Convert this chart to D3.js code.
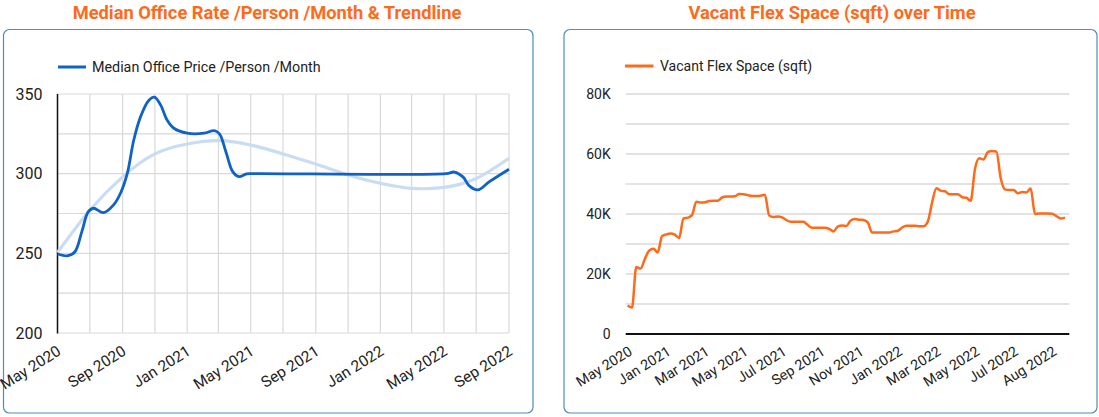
<!DOCTYPE html>
<html><head><meta charset="utf-8">
<script src="https://cdn.jsdelivr.net/npm/d3@7"></script>
<style>
body{margin:0;background:#fff;}
svg{display:block;font-family:Roboto,"Noto Sans",sans-serif;}
</style></head><body>
<svg id="chart" width="1099" height="417"></svg>
<script>
// ---------- Left chart data ----------
const priceTitle = "Median Office Rate /Person /Month & Trendline";
const priceLegend = "Median Office Price /Person /Month";
const priceDates = ["2020-05-01","2020-05-21","2020-06-03","2020-06-16","2020-06-28","2020-07-08","2020-07-27","2020-08-15","2020-08-28","2020-09-10","2020-09-22","2020-10-05","2020-10-20","2020-10-31","2020-11-12","2020-11-24","2020-12-07","2021-01-01","2021-02-02","2021-02-21","2021-03-03","2021-03-16","2021-03-28","2021-04-09","2021-04-23","2021-05-05","2022-05-05","2022-05-21","2022-06-06","2022-06-18","2022-07-04","2022-07-26","2022-09-01"];
const priceValues = [249.6,248.5,251,263.6,276,278.3,275.5,280.4,287.7,300.3,321,335.8,345.8,348,343,333.7,328.5,325.4,325.4,327,325,312.8,301.3,298.1,299.8,300,300,301,298,292.3,289.8,295,302.8];
const trendDates = ["2020-05-01","2020-07-01","2020-09-01","2020-11-01","2021-01-01","2021-03-01","2021-05-01","2021-07-01","2021-09-01","2021-11-01","2022-01-01","2022-03-01","2022-05-01","2022-07-01","2022-09-01"];
const trendValues = [250.5,277,298,312.4,318.6,320.7,318,312.4,306,299.2,294,290.8,291.4,297,309.7];
const priceTickDates = ["2020-05-01","2020-09-01","2021-01-01","2021-05-01","2021-09-01","2022-01-01","2022-05-01","2022-09-01"];
const priceYTicks = [200,250,300,350];

// ---------- Right chart data ----------
const flexTitle = "Vacant Flex Space (sqft) over Time";
const flexLegend = "Vacant Flex Space (sqft)";
const flexTickLabels = ["May 2020","Jan 2021","Mar 2021","May 2021","Jul 2021","Sep 2021","Nov 2021","Jan 2022","Mar 2022","May 2022","Jul 2022","Aug 2022"];
const flexValues = [9500,8800,22300,21800,25000,27800,28400,27200,32600,33200,
 33500,33100,32000,38500,38800,39600,44100,43800,43900,44300,
 44400,44400,45500,45800,45800,45900,46700,46600,46300,46000,
 46000,46100,46400,39500,39000,39200,38900,38000,37400,37400,
 37400,37400,36300,35400,35400,35400,35400,35000,34200,35800,
 36200,36000,37800,38300,38100,38000,37200,33800,33800,33800,
 33800,33800,34200,34400,35500,36100,36100,36100,35900,35900,
 37500,43800,48600,47800,47600,46600,46600,46600,45600,45400,
 44400,55000,58600,58200,60600,61000,60800,52000,48200,48000,
 48000,46900,47300,47200,48500,40000,40200,40200,40200,40100,
 39300,38500,38800];
const flexYTicks = [0,20000,40000,60000,80000];

// ---------- styles ----------
const ORANGE = "#ff6a1a";
const BLUE = "#1162c6";
const TREND = "#c8ddf4";
const GRID = "#d9d9d9";
const BORDER = "#4f8fb6";
const TEXT = "#222";

const svg = d3.select("#chart");
const parse = d3.timeParse("%Y-%m-%d");

function panel(x0, x1, cx, title){
  svg.append("rect").attr("x",x0).attr("y",29.5).attr("width",x1-x0).attr("height",383.5)
    .attr("rx",6).attr("fill","#fff").attr("stroke",BORDER).attr("stroke-width",1.2);
  svg.append("text").attr("x",cx).attr("y",18.5).attr("text-anchor","middle")
    .attr("font-size",18.3).attr("font-weight",700).attr("fill",ORANGE).text(title);
}

// ================= LEFT =================
panel(3.5, 533, 267, priceTitle);
{
  const g = svg.append("g");
  const x = d3.scaleTime().domain([parse("2020-05-01"), parse("2022-09-01")]).range([57.5, 509]);
  const y = d3.scaleLinear().domain([200, 350]).range([333, 94]);
  g.append("g").selectAll("line").data(d3.range(200, 351, 25)).join("line")
    .attr("x1",57.5).attr("x2",509).attr("y1",d=>y(d)).attr("y2",d=>y(d))
    .attr("stroke",GRID).attr("stroke-width",1.2);
  g.append("g").selectAll("line").data(x.ticks(d3.timeMonth.every(2))).join("line")
    .attr("x1",d=>x(d)).attr("x2",d=>x(d)).attr("y1",94).attr("y2",333)
    .attr("stroke",GRID).attr("stroke-width",1.2);
  g.append("line").attr("x1",57.5).attr("x2",57.5).attr("y1",94).attr("y2",333.5)
    .attr("stroke","#111").attr("stroke-width",1.5);
  const ya = g.append("g").attr("transform","translate(57.5,0)")
    .call(d3.axisLeft(y).tickValues(priceYTicks).tickSize(0).tickPadding(15));
  ya.select(".domain").remove();
  ya.selectAll("text").attr("font-size",16).attr("fill",TEXT).attr("font-family","Roboto");
  const xa = g.append("g").attr("transform","translate(0,333)")
    .call(d3.axisBottom(x).tickValues(priceTickDates.map(parse)).tickFormat(d3.timeFormat("%b %Y")).tickSize(0));
  xa.select(".domain").remove();
  xa.selectAll("text").attr("font-size",15.5).attr("fill",TEXT).attr("font-family","Roboto")
    .attr("text-anchor","end").attr("x",0).attr("y",0).attr("dy",0)
    .attr("transform","translate(4,21) rotate(-32)");
  const line = d3.line().x(d=>x(d[0])).y(d=>y(d[1]));
  g.append("path").datum(trendDates.map((d,i)=>[parse(d), trendValues[i]]))
    .attr("d", line.curve(d3.curveNatural)).attr("fill","none").attr("stroke",TREND).attr("stroke-width",3.2);
  g.append("path").datum(priceDates.map((d,i)=>[parse(d), priceValues[i]]))
    .attr("d", d3.line().x(d=>x(d[0])).y(d=>y(d[1])).curve(d3.curveCatmullRom.alpha(0.5)))
    .attr("fill","none").attr("stroke",BLUE).attr("stroke-width",2.8).attr("stroke-linejoin","round");
  g.append("line").attr("x1",58).attr("x2",86).attr("y1",67).attr("y2",67).attr("stroke",BLUE).attr("stroke-width",3);
  g.append("text").attr("x",92).attr("y",72).attr("font-size",14.3).attr("fill",TEXT).text(priceLegend);
}

// ================= RIGHT =================
panel(564, 1097, 832, flexTitle);
{
  const g = svg.append("g");
  const x = d3.scaleLinear().domain([0, flexValues.length-1]).range([627.7, 1065]);
  const y = d3.scaleLinear().domain([0, 80000]).range([334, 94]);
  g.append("g").selectAll("line").data(d3.range(10000, 80001, 10000)).join("line")
    .attr("x1",625.7).attr("x2",1069.3).attr("y1",d=>y(d)).attr("y2",d=>y(d))
    .attr("stroke",GRID).attr("stroke-width",1.3);
  g.append("line").attr("x1",625.7).attr("x2",1069.3).attr("y1",y(0)).attr("y2",y(0))
    .attr("stroke","#111").attr("stroke-width",2);
  const ya = g.append("g").attr("transform","translate(625.7,0)")
    .call(d3.axisLeft(y).tickValues(flexYTicks).tickSize(0).tickPadding(15)
      .tickFormat(d=> d===0 ? "0" : d3.format("d")(d/1000)+"K"));
  ya.select(".domain").remove();
  ya.selectAll("text").attr("font-size",14).attr("fill",TEXT).attr("font-family","Roboto");
  const xa = g.append("g").attr("transform","translate(0,334)")
    .call(d3.axisBottom(x).tickValues(flexTickLabels.map((d,i)=>i*9)).tickFormat((d,i)=>flexTickLabels[i]).tickSize(0));
  xa.select(".domain").remove();
  xa.selectAll("text").attr("font-size",14.3).attr("fill",TEXT).attr("font-family","Roboto")
    .attr("text-anchor","end").attr("x",0).attr("y",0).attr("dy",0)
    .attr("transform","translate(5,20) rotate(-32)");
  g.append("path").datum(flexValues)
    .attr("d", d3.line().x((d,i)=>x(i)).y(d=>y(d)).curve(d3.curveMonotoneX))
    .attr("fill","none").attr("stroke",ORANGE).attr("stroke-width",2.5).attr("stroke-linejoin","round");
  g.append("line").attr("x1",625).attr("x2",653.5).attr("y1",66).attr("y2",66).attr("stroke",ORANGE).attr("stroke-width",3);
  g.append("text").attr("x",660).attr("y",71).attr("font-size",14).attr("fill",TEXT).text(flexLegend);
}
</script>
</body></html>
